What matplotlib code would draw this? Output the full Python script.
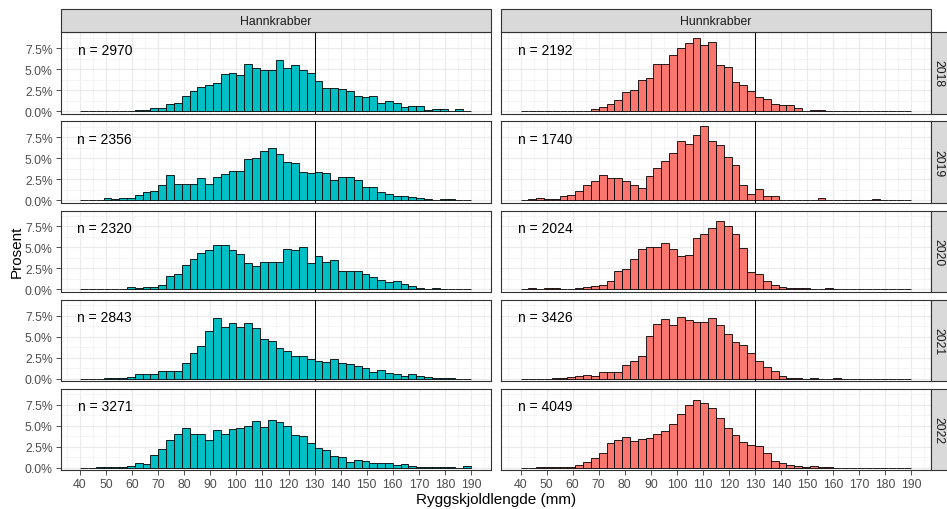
import numpy as np
import matplotlib
matplotlib.use("Agg")
import matplotlib.pyplot as plt
from matplotlib.patches import Rectangle

plt.rcParams['font.family'] = ['Liberation Sans', 'DejaVu Sans']

# 3 mm bins from 40 to 190 mm, values in percent of each panel's total
bin_edges = np.arange(40, 190.1, 3)

years = ["2018", "2019", "2020", "2021", "2022"]
sexes = ["Hannkrabber", "Hunnkrabber"]

hann_2018 = [0, 0, 0, 0, 0, 0, 0, 0.15, 0.2, 0.4, 0.4, 0.87, 1.03, 1.79, 2.42, 2.86, 3.1, 3.41,
             4.44, 4.56, 4.37, 5.6, 5.2, 4.96, 4.88, 6.1, 5.2, 5.48, 4.92, 4.56, 3.57, 2.82, 2.82,
             2.62, 2.38, 1.79, 1.71, 1.79, 0.99, 1.27, 1.03, 0.56, 0.63, 0.63, 0.16, 0.32, 0.32,
             0.03, 0.24, 0]
hunn_2018 = [0, 0, 0, 0, 0, 0, 0, 0, 0, 0.24, 0.48, 0.83, 1.3, 2.34, 2.58, 3.73, 3.93, 5.63,
             5.63, 6.75, 7.58, 8.13, 8.73, 7.94, 8.25, 5.48, 5.32, 3.49, 3.1, 2.38, 1.75, 1.43,
             0.83, 0.71, 0.71, 0.4, 0, 0.12, 0.12, 0, 0, 0, 0, 0, 0, 0, 0, 0, 0, 0]
hann_2019 = [0, 0, 0, 0.32, 0.2, 0.28, 0.28, 0.63, 1.0, 1.1, 1.83, 2.98, 1.9, 1.9, 1.9, 2.62,
             1.94, 2.74, 3.17, 3.49, 3.49, 4.92, 5.04, 5.83, 6.23, 5.56, 4.56, 4.44, 3.37, 3.21,
             3.41, 3.21, 2.38, 2.74, 2.74, 2.46, 1.59, 1.59, 1.03, 0.75, 0.52, 0.52, 0.44, 0.28,
             0.16, 0.04, 0.12, 0.12, 0, 0]
hunn_2019 = [0, 0.16, 0.32, 0.2, 0.2, 0.48, 0.6, 1.07, 1.79, 2.3, 3.02, 2.62, 2.62, 2.26, 1.79,
             1.43, 2.9, 3.85, 4.72, 5.67, 7.02, 6.71, 7.74, 8.89, 7.1, 6.55, 5.12, 4.25, 1.83,
             0.75, 1.35, 0.52, 0.52, 0.06, 0.06, 0.06, 0.06, 0.06, 0.28, 0, 0, 0, 0, 0, 0, 0.12,
             0, 0, 0, 0]
hann_2020 = [0, 0, 0, 0, 0.08, 0.08, 0.24, 0.12, 0.24, 0.32, 0.52, 1.59, 1.9, 2.9, 3.61, 4.4,
             4.68, 5.32, 5.32, 4.72, 4.21, 3.13, 2.78, 3.25, 3.25, 3.25, 4.76, 4.64, 5.0, 3.1,
             3.97, 3.25, 3.53, 2.22, 2.22, 2.22, 1.9, 1.43, 1.11, 0.87, 0.99, 0.63, 0.4, 0.16,
             0, 0.12, 0, 0, 0, 0]
hunn_2020 = [0, 0.12, 0, 0.12, 0.12, 0, 0, 0.16, 0.32, 0.44, 0.52, 1.03, 2.22, 2.38, 3.57, 4.84,
             5.08, 5.08, 5.56, 4.8, 3.97, 4.09, 6.07, 6.55, 7.26, 8.17, 7.5, 6.59, 4.88, 2.1,
             1.79, 1.03, 0.48, 0.32, 0.12, 0.2, 0.12, 0, 0, 0.16, 0, 0, 0, 0, 0, 0, 0, 0, 0, 0]
hann_2021 = [0, 0, 0, 0.08, 0.08, 0.08, 0.24, 0.52, 0.52, 0.52, 0.87, 0.95, 0.95, 1.9, 3.02,
             3.85, 5.63, 7.18, 6.15, 6.59, 6.11, 6.59, 5.99, 4.68, 4.52, 3.65, 3.29, 2.66, 2.66,
             2.3, 2.1, 1.98, 2.38, 1.9, 1.71, 1.51, 1.31, 0.79, 1.03, 0.67, 0.52, 0.32, 0.56,
             0.36, 0.24, 0.12, 0.12, 0.04, 0, 0]
hunn_2021 = [0, 0, 0, 0, 0.12, 0.12, 0.24, 0.28, 0.44, 0.32, 0.75, 0.75, 0.75, 1.67, 2.1, 2.66,
             5.08, 6.51, 7.14, 6.35, 7.34, 6.94, 6.79, 6.79, 7.26, 6.35, 5.32, 4.33, 4.05, 3.02,
             2.06, 1.39, 0.87, 0.32, 0.06, 0.06, 0, 0.12, 0, 0, 0.12, 0, 0, 0, 0, 0, 0, 0, 0, 0]
hann_2022 = [0, 0, 0.12, 0.04, 0.04, 0.04, 0.24, 0.56, 0.44, 1.47, 2.26, 3.29, 3.97, 4.72, 3.97,
             3.97, 3.29, 4.52, 3.97, 4.56, 4.68, 5.0, 5.56, 4.88, 5.71, 5.48, 5.0, 3.89, 3.77,
             2.98, 2.38, 2.1, 1.43, 1.27, 0.67, 0.87, 0.75, 0.56, 0.56, 0.56, 0.28, 0.48, 0.24,
             0.12, 0.12, 0.04, 0.04, 0.04, 0, 0.16]
hunn_2022 = [0, 0, 0.1, 0.1, 0.1, 0.1, 0.1, 0.28, 0.71, 1.19, 1.71, 2.98, 3.29, 3.69, 3.17, 3.45,
             3.57, 3.97, 4.37, 5.24, 6.43, 7.42, 8.02, 7.66, 7.14, 5.87, 4.68, 3.89, 3.06, 2.74,
             2.62, 1.75, 0.83, 0.56, 0.28, 0.16, 0.08, 0.16, 0.08, 0.04, 0, 0, 0, 0, 0, 0, 0, 0,
             0, 0]

hann = [hann_2018, hann_2019, hann_2020, hann_2021, hann_2022]
hunn = [hunn_2018, hunn_2019, hunn_2020, hunn_2021, hunn_2022]
n_hann = [2970, 2356, 2320, 2843, 3271]
n_hunn = [2192, 1740, 2024, 3426, 4049]

colors = ["#00BFC4", "#F8766D"]
W, H = 947, 510

fig = plt.figure(figsize=(W / 100, H / 100), dpi=100)
fig.patch.set_facecolor("white")

col_x = [60.5, 501]
col_w = 430
row_top0, row_h, row_gap = 33.3, 81.5, 7.6

def px_axes(x0, top, w, h):
    return fig.add_axes([x0 / W, 1 - (top + h) / H, w / W, h / H])

centers = bin_edges[:-1] + 1.5
for c, (data, nlist) in enumerate([(hann, n_hann), (hunn, n_hunn)]):
    for r in range(5):
        top = row_top0 + r * (row_h + row_gap)
        ax = px_axes(col_x[c], top, col_w, row_h)
        vals = data[r]
        assert len(vals) == len(centers)
        ax.bar(centers, vals, width=3, color=colors[c], edgecolor="black",
               linewidth=0.6, zorder=3)
        ax.axvline(130, color="black", linewidth=0.7, zorder=4)
        ax.text(49.5, 7.35, f"n = {nlist[r]}", fontsize=10, ha="center", va="center",
                color="black", zorder=5)
        ax.set_xlim(32.5, 197.5)
        ax.set_ylim(-0.3, 9.4)
        ax.set_xticks(np.arange(40, 191, 10))
        ax.set_xticks(np.arange(35, 196, 10), minor=True)
        ax.set_yticks([0, 2.5, 5, 7.5])
        ax.set_yticks([1.25, 3.75, 6.25, 8.75], minor=True)
        ax.grid(which="major", color="#EBEBEB", linewidth=0.9, zorder=0)
        ax.grid(which="minor", color="#F2F2F2", linewidth=0.5, zorder=0)
        ax.set_axisbelow(True)
        for s in ax.spines.values():
            s.set_color("#333333")
            s.set_linewidth(0.8)
        ax.tick_params(which="minor", length=0)
        ax.tick_params(which="major", length=3.5, width=0.6, color="#333333",
                       labelsize=8.8, labelcolor="#4D4D4D", pad=2)
        if c == 0:
            ax.set_yticklabels(["0.0%", "2.5%", "5.0%", "7.5%"])
        else:
            ax.tick_params(axis="y", left=False, labelleft=False)
        if r < 4:
            ax.tick_params(axis="x", bottom=False, labelbottom=False)

        # right strip with year
        if c == 1:
            sx = col_x[c] + col_w
            fig.patches.append(Rectangle((sx / W, 1 - (top + row_h) / H), 24 / W, row_h / H,
                                         transform=fig.transFigure, facecolor="#D9D9D9",
                                         edgecolor="#333333", linewidth=0.8))
            fig.text((sx + 7.5) / W, 1 - (top + row_h / 2) / H, years[r], rotation=-90,
                     fontsize=8.8, color="#1A1A1A", ha="center", va="center",
                     rotation_mode="anchor")

    # top strip
    fig.patches.append(Rectangle((col_x[c] / W, 1 - row_top0 / H), col_w / W, 23.3 / H,
                                 transform=fig.transFigure, facecolor="#D9D9D9",
                                 edgecolor="#333333", linewidth=0.8))
    fig.text((col_x[c] + col_w / 2) / W, 1 - 21.7 / H, sexes[c], fontsize=8.8,
             color="#1A1A1A", ha="center", va="center")

fig.text(496 / W, 1 - 500 / H, "Ryggskjoldlengde (mm)", fontsize=11, ha="center",
         va="center", color="black")
fig.text(17 / W, 1 - 252 / H, "Prosent", fontsize=11, ha="center", va="center",
         rotation=90, color="black")

fig.savefig("out.png", dpi=100)
